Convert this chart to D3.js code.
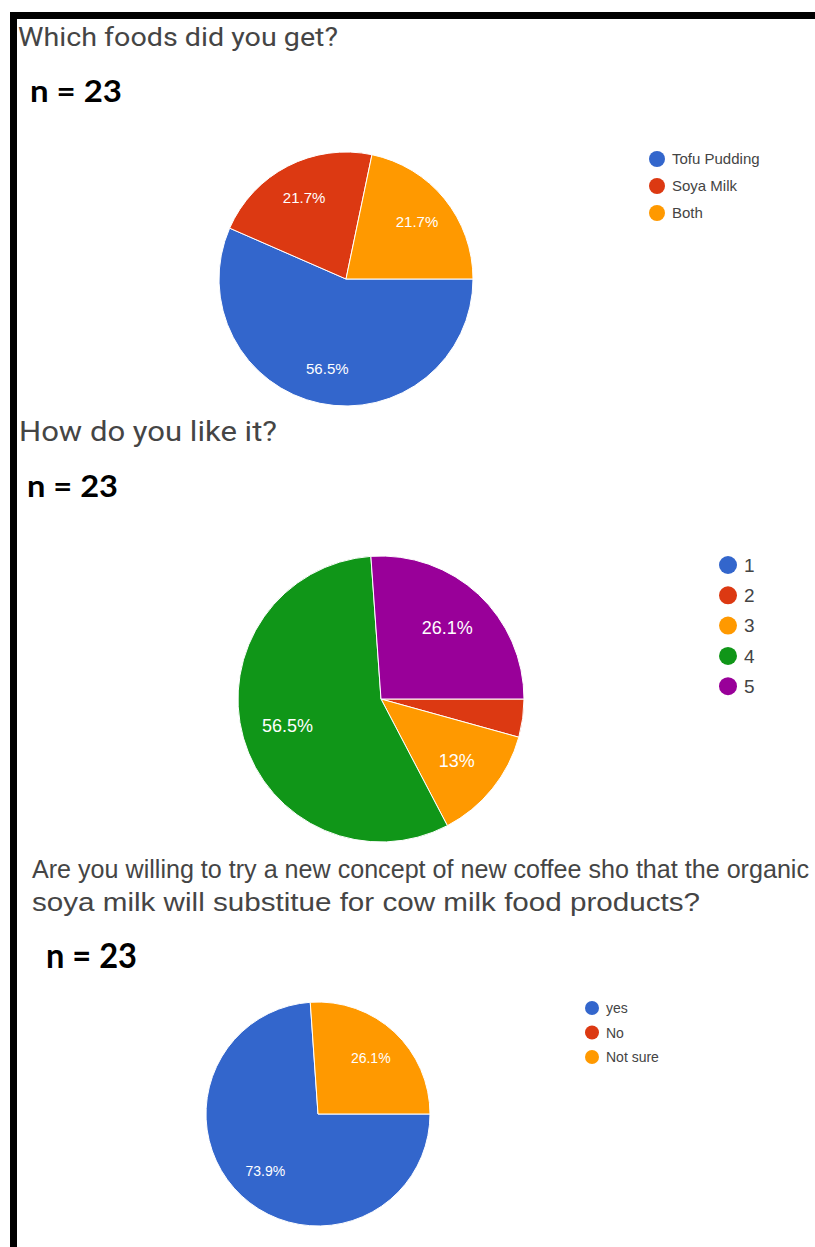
<!DOCTYPE html>
<html>
<head>
<meta charset="utf-8">
<script src="https://cdn.jsdelivr.net/npm/d3@7"></script>
<style>
  html, body { margin: 0; padding: 0; background: #fff; }
  svg { display: block; }
</style>
</head>
<body>
<svg id="chart" width="815" height="1247"></svg>
<script>
// ---- Survey data (percent of respondents, n = 23) ----
const foodCategories = ["Tofu Pudding", "Soya Milk", "Both"];
const foodValues = [56.5, 21.7, 21.7];

const likeCategories = ["1", "2", "3", "4", "5"];
const likeValues = [0, 4.3, 13, 56.5, 26.1];

const tryCategories = ["yes", "No", "Not sure"];
const tryValues = [73.9, 0, 26.1];

const sampleLabel = "n = 23";
const titles = [
  ["Which foods did you get?"],
  ["How do you like it?"],
  ["Are you willing to try a new concept of new coffee sho that the organic",
   "soya milk will substitue for cow milk food products?"]
];

// Google-style series palette
const palette = ["#3366cc", "#dc3912", "#ff9900", "#109618", "#990099"];

// ---- Layout of the three panels ----
const panels = [
  {
    cats: foodCategories, vals: foodValues,
    title: { x: 18, ys: [46], size: 25, widths: [320], family: "Roboto, 'Liberation Sans', Arial, sans-serif" },
    n: { x: 30, y: 102, size: 31, width: 92 },
    pie: { cx: 346, cy: 279, r: 127, labelRatio: 0.72, labelSize: 15 },
    legend: { x: 657, y: 159, step: 27, r: 8, size: 15 }
  },
  {
    cats: likeCategories, vals: likeValues,
    title: { x: 19, ys: [441], size: 28, widths: [258], family: "Roboto, 'Liberation Sans', Arial, sans-serif" },
    n: { x: 27, y: 497, size: 30, width: 91 },
    pie: { cx: 381, cy: 699, r: 143, labelRatio: 0.68, labelSize: 18 },
    legend: { x: 728, y: 565, step: 30.3, r: 9, size: 19 }
  },
  {
    cats: tryCategories, vals: tryValues,
    title: { x: 32, ys: [878, 911], size: 25, widths: [777, 668], family: "'Liberation Sans Narrow', 'Liberation Sans', Arial, sans-serif" },
    n: { x: 46, y: 968, size: 34, width: 91 },
    pie: { cx: 318, cy: 1114, r: 112, labelRatio: 0.69, labelSize: 14 },
    legend: { x: 592, y: 1008, step: 24.5, r: 7, size: 14 }
  }
];

const svg = d3.select("#chart");

// Frame lines along the top and left edge
svg.append("rect").attr("x", 10).attr("y", 12).attr("width", 805).attr("height", 7).attr("fill", "#000");
svg.append("rect").attr("x", 10).attr("y", 12).attr("width", 7).attr("height", 1235).attr("fill", "#000");

const pie = d3.pie().sort(null).value(d => d.value)
  .startAngle(Math.PI / 2).endAngle(Math.PI / 2 + 2 * Math.PI);

panels.forEach((p, i) => {
  const g = svg.append("g");
  const data = p.cats.map((c, k) => ({ cat: c, value: p.vals[k], color: palette[k] }));

  // Question title
  p.title.ys.forEach((y, li) => {
    g.append("text")
      .attr("x", p.title.x).attr("y", y)
      .attr("font-family", p.title.family)
      .attr("font-size", p.title.size)
      .attr("fill", "#454545")
      .attr("textLength", p.title.widths[li])
      .attr("lengthAdjust", "spacingAndGlyphs")
      .text(titles[i][li]);
  });

  // Sample size note
  g.append("text")
    .attr("x", p.n.x).attr("y", p.n.y)
    .attr("font-family", "Lato, 'Open Sans', 'Liberation Sans', sans-serif")
    .attr("font-weight", "bold")
    .attr("font-size", p.n.size)
    .attr("fill", "#000")
    .attr("textLength", p.n.width)
    .attr("lengthAdjust", "spacingAndGlyphs")
    .text(sampleLabel);

  // Pie
  const arcs = pie(data);
  const arc = d3.arc().innerRadius(0).outerRadius(p.pie.r);
  const labelArc = d3.arc()
    .innerRadius(p.pie.r * p.pie.labelRatio)
    .outerRadius(p.pie.r * p.pie.labelRatio);

  const pg = g.append("g").attr("transform", `translate(${p.pie.cx},${p.pie.cy})`);
  pg.selectAll("path")
    .data(arcs.filter(a => a.data.value > 0))
    .join("path")
    .attr("d", arc)
    .attr("fill", a => a.data.color)
    .attr("stroke", "#fff")
    .attr("stroke-width", 1);

  pg.selectAll("text")
    .data(arcs.filter(a => a.data.value >= 5))
    .join("text")
    .attr("transform", a => `translate(${labelArc.centroid(a)})`)
    .attr("text-anchor", "middle")
    .attr("dy", "0.36em")
    .attr("font-family", "'Liberation Sans', Arial, sans-serif")
    .attr("font-size", p.pie.labelSize)
    .attr("fill", "#fff")
    .text(a => `${a.data.value}%`);

  // Legend
  const lg = g.append("g");
  const items = lg.selectAll("g")
    .data(data)
    .join("g")
    .attr("transform", (d, k) => `translate(${p.legend.x},${p.legend.y + k * p.legend.step})`);
  items.append("circle").attr("r", p.legend.r).attr("fill", d => d.color);
  items.append("text")
    .attr("x", p.legend.r + 7)
    .attr("dy", "0.36em")
    .attr("font-family", "'Liberation Sans', Arial, sans-serif")
    .attr("font-size", p.legend.size)
    .attr("fill", "#444")
    .text(d => d.cat);
});
</script>
</body>
</html>
